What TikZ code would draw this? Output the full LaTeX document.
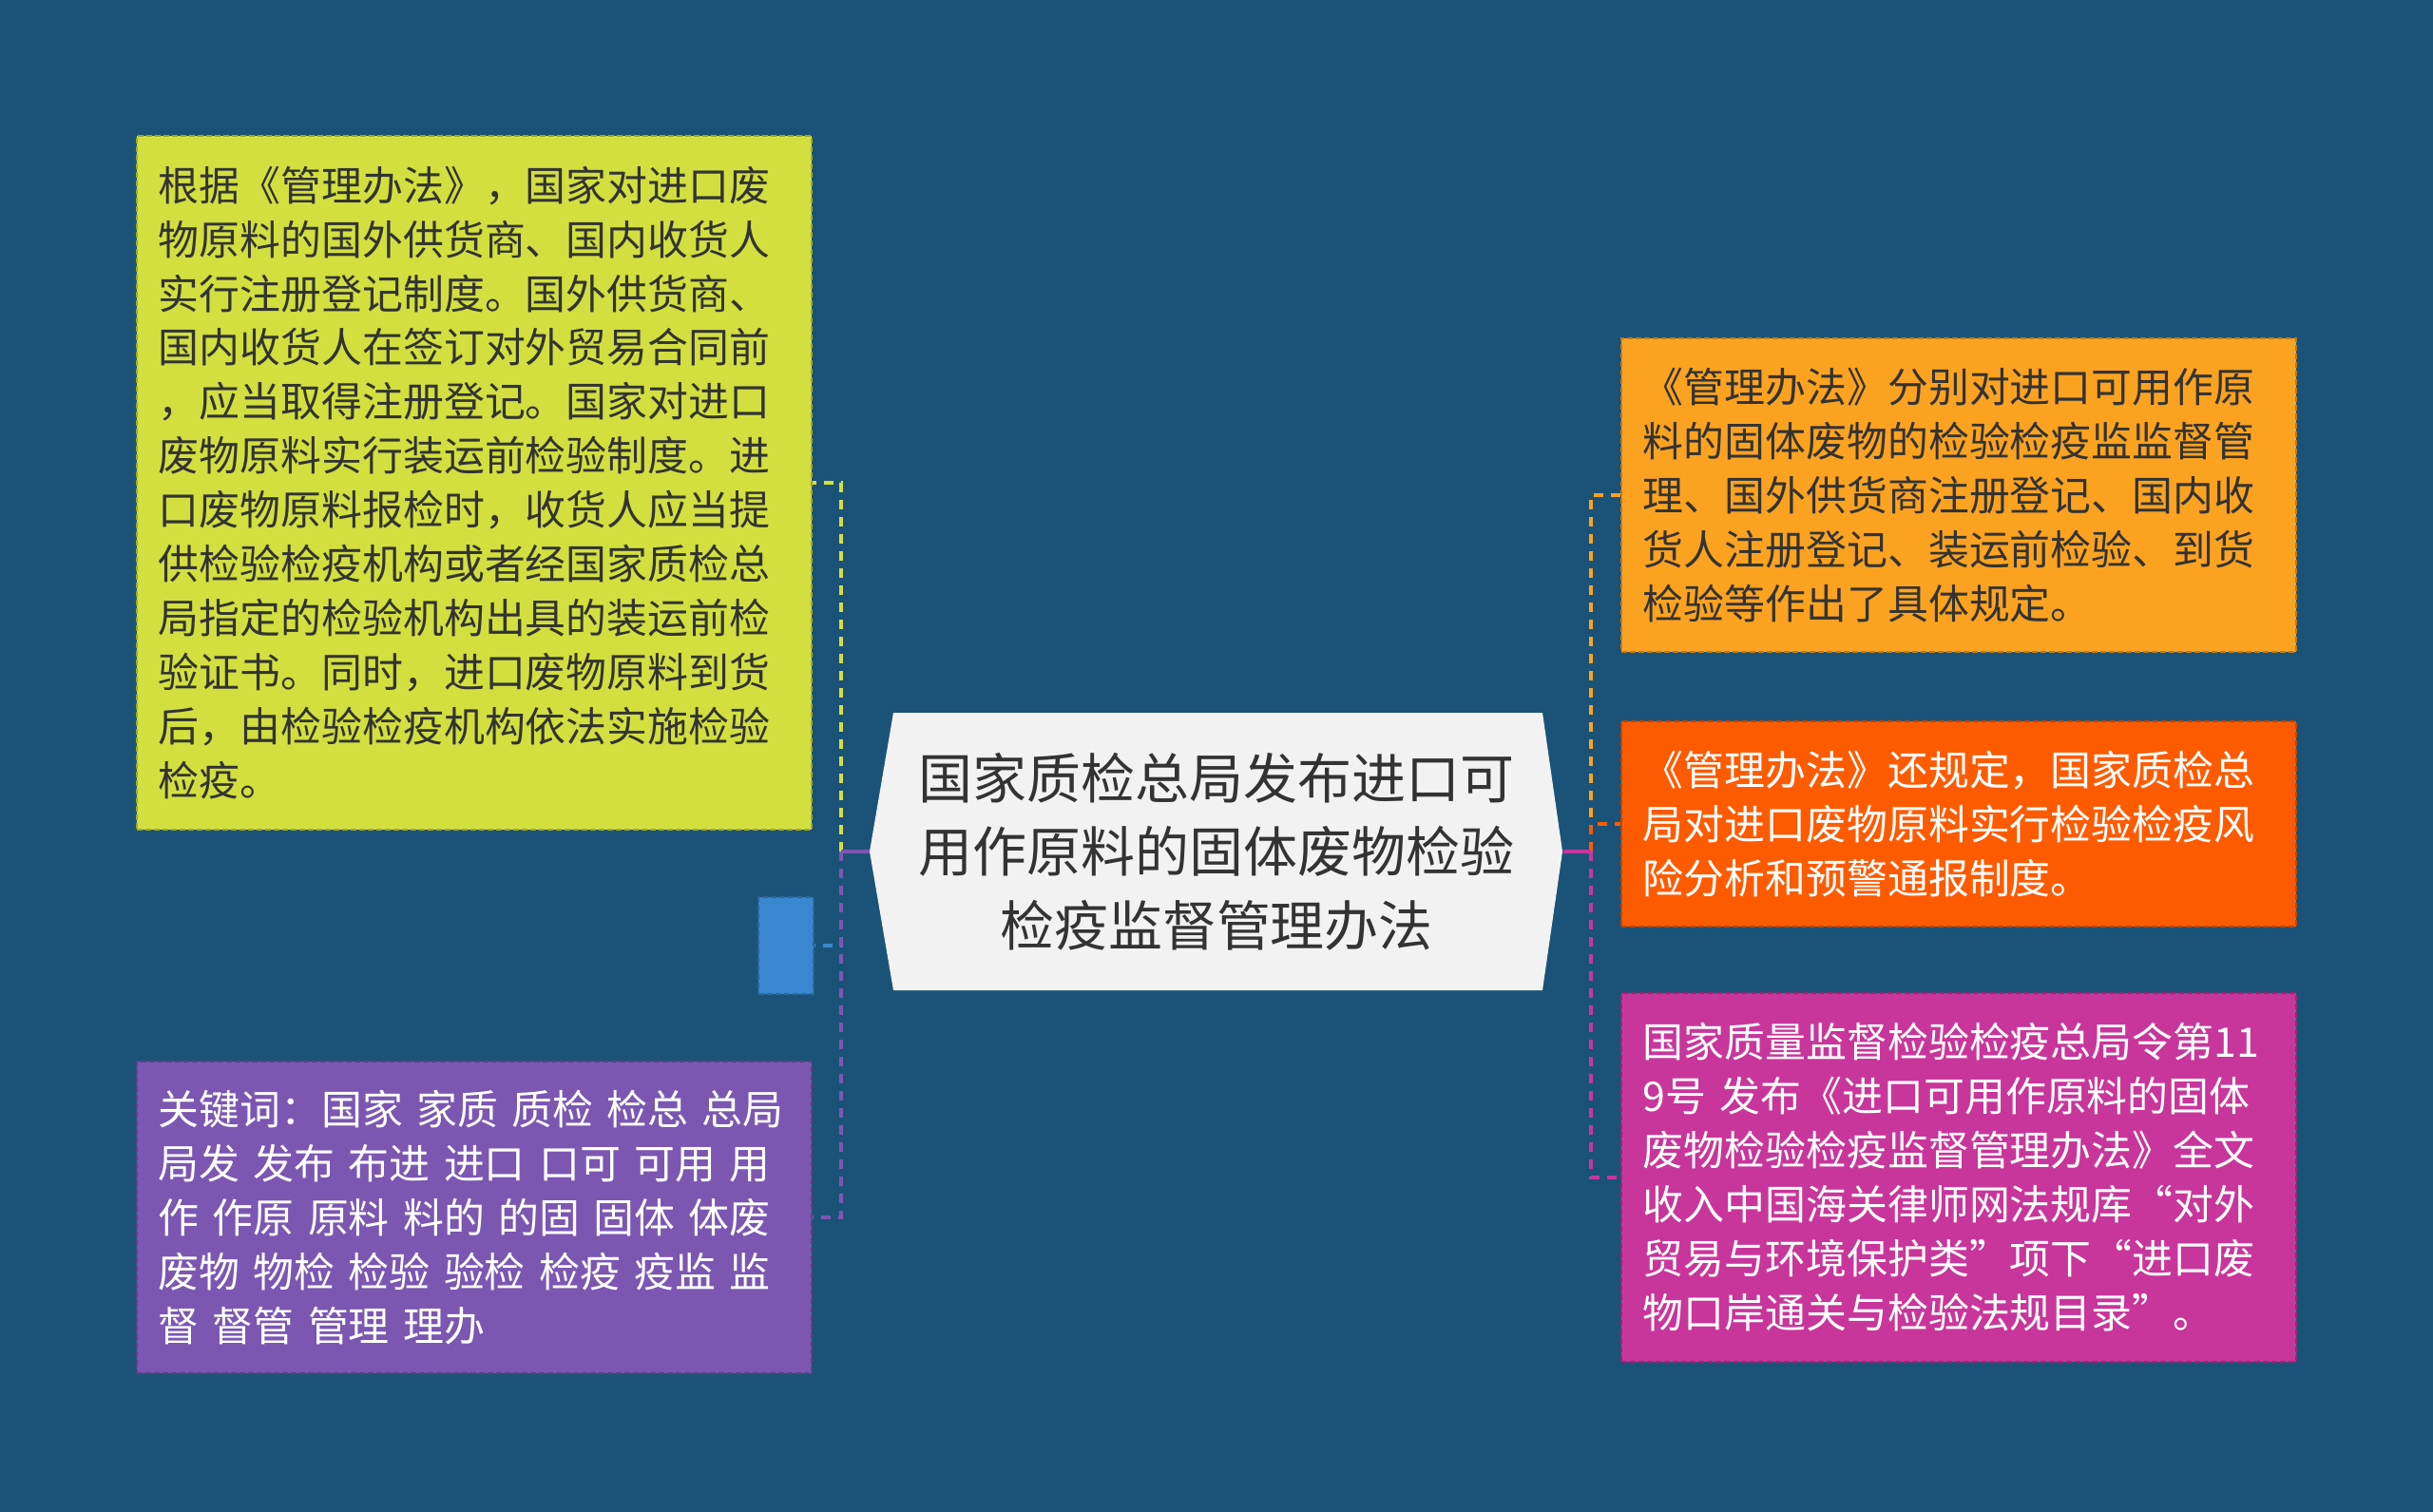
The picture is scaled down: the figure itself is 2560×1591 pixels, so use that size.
\documentclass[tikz,border=0pt]{standalone}
\usepackage{fontspec}
\setmainfont{Noto Sans CJK SC}
\definecolor{bgblue}{HTML}{1B5378}
\definecolor{rootgrey}{HTML}{F2F2F2}
\definecolor{darktext}{HTML}{333333}
\definecolor{limefill}{HTML}{D3DF3F}
\definecolor{skyfill}{HTML}{3A86CF}
\definecolor{violetfill}{HTML}{7B57B2}
\definecolor{amberfill}{HTML}{FBA321}
\definecolor{flamefill}{HTML}{FD5B02}
\definecolor{rosefill}{HTML}{C8369B}
\begin{document}
\begin{tikzpicture}[x=0.01cm, y=-0.01cm,
    leaf/.style={fill=#1, draw=#1!75!black, dash pattern=on 0.06cm off 0.03cm,
        line width=0.02cm, minimum width=7.1cm, text width=6.64cm, inner xsep=0.23cm,
        inner ysep=0pt, align=left, font=\fontsize{12.2pt}{16.2pt}\selectfont},
    link/.style={line width=0.04cm, dash pattern=on 0.1cm off 0.08cm},
    stem/.style={line width=0.04cm}]
    \fill[bgblue] (0,0) rectangle (2560,1591);
    \fill[rootgrey] (940,750) -- (1623,750) -- (1644,896) -- (1623,1042) -- (940,1042) -- (915,896) -- cycle;
    \node[text=darktext, align=center, minimum width=7.29cm, minimum height=2.92cm,
        font=\fontsize{16.2pt}{22.1pt}\selectfont] (root) at (1280,896)
        {国家质检总局发布进口可\\用作原料的固体废物检验\\检疫监督管理办法};
    \node[leaf=limefill, text=darktext, minimum height=7.29cm] (rules) at (499,508)
        {根据《管理办法》，国家对进口废\\物原料的国外供货商、国内收货人\\实行注册登记制度。国外供货商、\\国内收货人在签订对外贸易合同前\\，应当取得注册登记。国家对进口\\废物原料实行装运前检验制度。进\\口废物原料报检时，收货人应当提\\供检验检疫机构或者经国家质检总\\局指定的检验机构出具的装运前检\\验证书。同时，进口废物原料到货\\后，由检验检疫机构依法实施检验\\检疫。};
    \node[leaf=skyfill, minimum width=0.58cm, text width=0.12cm, minimum height=1.01cm] (blank) at (827,995) {};
    \node[leaf=violetfill, text=white, minimum height=3.27cm] (keywords) at (499,1281)
        {关键词：国家 家质 质检 检总 总局\\局发 发布 布进 进口 口可 可用 用\\作 作原 原料 料的 的固 固体 体废\\废物 物检 检验 验检 检疫 疫监 监\\督 督管 管理 理办};
    \node[leaf=amberfill, text=darktext, minimum height=3.29cm] (scope) at (2061,521)
        {《管理办法》分别对进口可用作原\\料的固体废物的检验检疫监监督管\\理、国外供货商注册登记、国内收\\货人注册登记、装运前检验、到货\\检验等作出了具体规定。};
    \node[leaf=flamefill, text=white, minimum height=2.16cm] (risk) at (2061,867)
        {《管理办法》还规定，国家质检总\\局对进口废物原料实行检验检疫风\\险分析和预警通报制度。};
    \node[leaf=rosefill, text=white, minimum height=3.87cm] (source) at (2061,1239)
        {国家质量监督检验检疫总局令第11\\9号 发布《进口可用作原料的固体\\废物检验检疫监督管理办法》全文\\收入中国海关律师网法规库“对外\\贸易与环境保护类”项下“进口废\\物口岸通关与检验法规目录”。};
    \coordinate (lj) at (885,896);
    \coordinate (rj) at (1674,896);
    \foreach \kid/\col in {rules/limefill, blank/skyfill, keywords/violetfill}
        \draw[link, draw=\col] (lj) |- (\kid.east);
    \draw[stem, violetfill] (root.west) -- (lj);
    \foreach \kid/\col in {scope/amberfill, risk/flamefill, source/rosefill}
        \draw[link, draw=\col] (rj) |- (\kid.west);
    \draw[stem, rosefill] (root.east) -- (rj);
\end{tikzpicture}
\end{document}
